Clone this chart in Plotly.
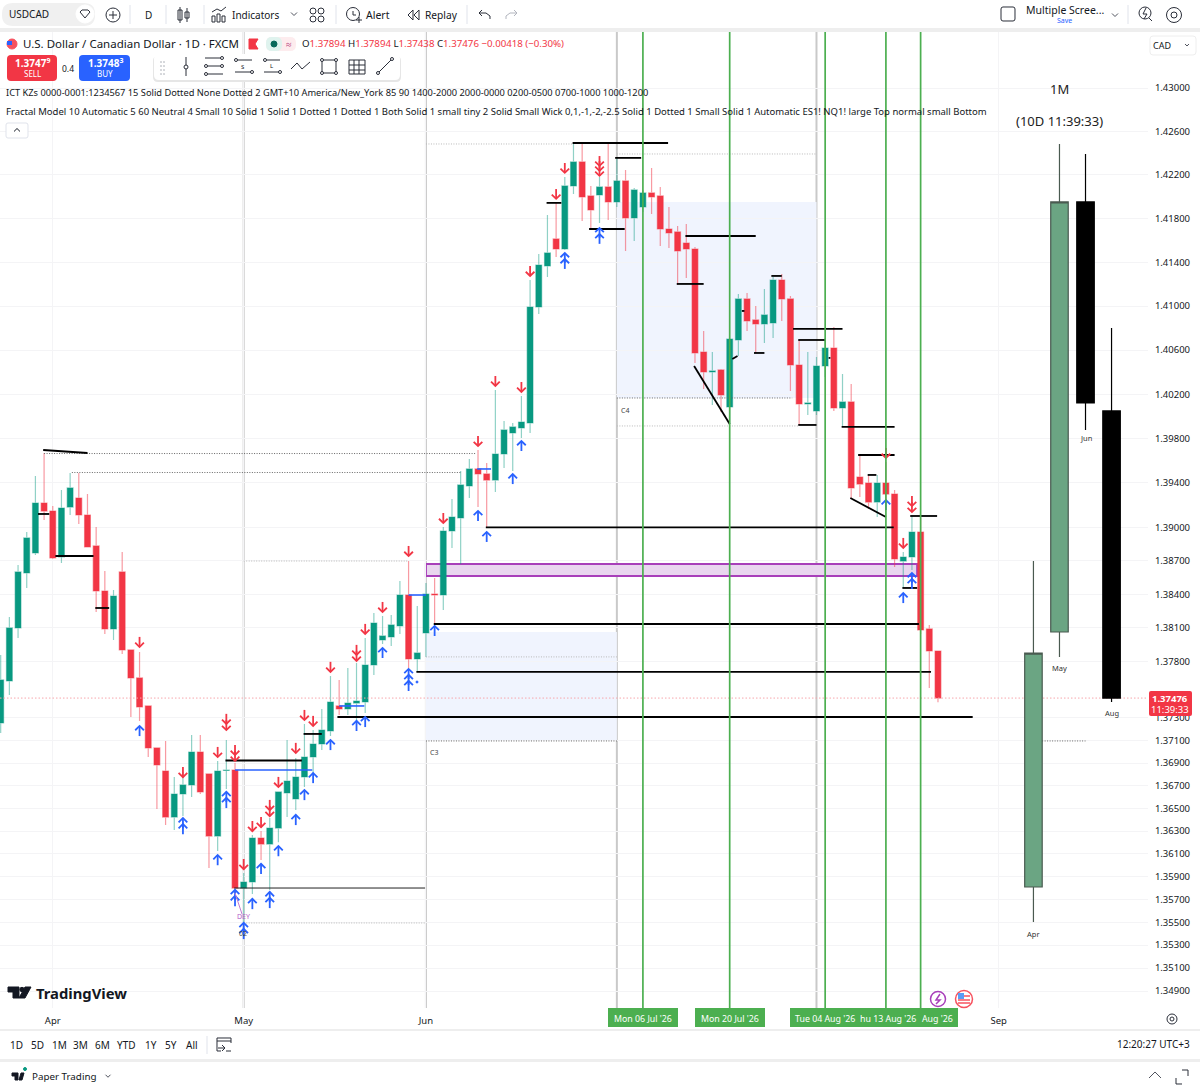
import plotly.graph_objects as go
import numpy as np

W, H = 1200, 1088
FONT = "Noto Sans"
TEXT = "#131722"
RED = "#F23645"
GREEN = "#089981"
BLUE = "#2962FF"

# daily candles, bar 0 is 24 Mar
o = [1.37255,1.37628,1.38100,1.38591,1.38770,1.39218,1.39146,1.38734,1.39182,1.39263,
     1.39111,1.38833,1.38430,1.38091,1.38600,1.37904,1.37655,1.37406,1.37034,1.36830,
     1.36424,1.36627,1.36707,1.36998,1.36804,1.36256,1.36835,1.36839,1.35800,1.35853,
     1.36239,1.36186,1.36327,1.36636,1.36583,1.36777,1.36954,1.37069,1.37184,1.37406,
     1.37379,1.37432,1.37441,1.37770,1.37993,1.38020,1.38118,1.38394,1.37824,1.38055,
     1.38403,1.38394,1.38967,1.39084,1.39372,1.39525,1.39480,1.39425,1.39660,1.39850,
     1.39895,1.39940,1.40992,1.41366,1.41613,1.41521,1.42099,1.42319,1.42007,1.42016,
     1.42089,1.41952,1.42144,1.41805,1.41906,1.42034,1.42007,1.41704,1.41677,1.41576,
     1.41521,1.40583,1.40402,1.40420,1.40085,1.40692,1.41065,1.40874,1.40838,1.40847,
     1.41238,1.41065,1.40465,1.40112,1.40049,1.40456,1.40619,1.40076,1.40130,1.39452,
     1.39398,1.39227,1.39398,1.39299,1.38698,1.38734,1.38958,1.38091,1.37894]
h = [1.37860,1.38198,1.38663,1.38958,1.39461,1.39669,1.39191,1.39336,1.39489,1.39489,
     1.39299,1.39003,1.38609,1.38439,1.38779,1.37904,1.37886,1.37406,1.37034,1.37096,
     1.36777,1.36821,1.37149,1.37149,1.36804,1.36919,1.37105,1.36901,1.35932,1.36265,
     1.36300,1.36415,1.36645,1.37105,1.36945,1.37246,1.37193,1.37379,1.37673,1.37637,
     1.37744,1.37788,1.38011,1.38233,1.38207,1.38215,1.38519,1.38698,1.38296,1.38501,
     1.38546,1.39003,1.39254,1.39507,1.39615,1.39696,1.39579,1.40239,1.39958,1.39940,
     1.40184,1.41238,1.41476,1.41833,1.41943,1.42181,1.42493,1.42493,1.42099,1.42181,
     1.42493,1.42356,1.42245,1.42080,1.42062,1.42264,1.42089,1.41906,1.41732,1.41750,
     1.41539,1.40774,1.40583,1.40429,1.40701,1.41111,1.41120,1.41001,1.41156,1.41266,
     1.41293,1.41092,1.40692,1.40583,1.40538,1.40710,1.40810,1.40384,1.40293,1.39651,
     1.39471,1.39471,1.39588,1.39336,1.38779,1.39102,1.39084,1.38127,1.37894]
l = [1.37167,1.37504,1.38011,1.38457,1.38752,1.39066,1.38716,1.38681,1.39111,1.39030,
     1.38824,1.38242,1.38046,1.37993,1.37868,1.37308,1.37273,1.36954,1.36495,1.36353,
     1.36309,1.36433,1.36601,1.36627,1.35975,1.36124,1.36671,1.35756,1.35494,1.35748,
     1.36045,1.35783,1.36203,1.36424,1.36486,1.36689,1.36804,1.37016,1.37140,1.37326,
     1.37326,1.37237,1.37344,1.37682,1.37957,1.37940,1.38046,1.37744,1.37708,1.37842,
     1.38144,1.38260,1.38815,1.38672,1.39263,1.39182,1.38994,1.39317,1.39534,1.39507,
     1.39804,1.39850,1.40929,1.41266,1.41448,1.41512,1.42025,1.41778,1.41704,1.41759,
     1.41787,1.41906,1.41503,1.41594,1.41860,1.41842,1.41549,1.41530,1.41193,1.41257,
     1.40483,1.40248,1.40103,1.40040,1.39931,1.40547,1.40774,1.40574,1.40665,1.40710,
     1.40865,1.40230,1.39922,1.40012,1.40012,1.40356,1.40049,1.39904,1.39254,1.39272,
     1.39164,1.39093,1.39245,1.38645,1.38457,1.38618,1.38046,1.37566,1.37438]
c = [1.37637,1.38100,1.38600,1.38905,1.39218,1.39146,1.38725,1.39173,1.39354,1.39111,
     1.38824,1.38430,1.38091,1.38385,1.37904,1.37655,1.37397,1.37034,1.36883,1.36424,
     1.36627,1.36707,1.36998,1.36645,1.36256,1.36830,1.36839,1.35800,1.35853,1.36239,
     1.36186,1.36327,1.36645,1.36742,1.36777,1.36954,1.37069,1.37193,1.37441,1.37379,
     1.37432,1.37450,1.37770,1.38144,1.38029,1.38127,1.38394,1.37824,1.37877,1.38403,
     1.38394,1.38967,1.39093,1.39381,1.39525,1.39480,1.39425,1.39660,1.39877,1.39904,
     1.39949,1.40992,1.41375,1.41485,1.41521,1.42099,1.42319,1.41998,1.41878,1.42089,
     1.41952,1.42144,1.41805,1.42062,1.42034,1.41998,1.41704,1.41668,1.41503,1.41521,
     1.40574,1.40402,1.40411,1.40193,1.40701,1.41065,1.40865,1.40838,1.40920,1.41238,
     1.41065,1.40465,1.40112,1.40121,1.40456,1.40619,1.40076,1.40130,1.39354,1.39389,
     1.39227,1.39398,1.39299,1.38716,1.38734,1.38958,1.38082,1.37895,1.37476]
bars = list(range(len(o)))

# monthly candles on the right
month_bar = [119, 122, 125, 128]
month_o = [1.35809, 1.38064, 1.41952, 1.40049]
month_h = [1.38698, 1.42484, 1.42392, 1.40801]
month_l = [1.35503, 1.37842, 1.39877, 1.37441]
month_c = [1.37876, 1.41952, 1.40121, 1.37476]

# axis ticks
price_ticks = [1.43, 1.426, 1.422, 1.418, 1.414, 1.41, 1.406, 1.402, 1.398, 1.394, 1.39, 1.387,
               1.384, 1.381, 1.378, 1.373, 1.371, 1.369, 1.367, 1.365, 1.363, 1.361, 1.359,
               1.357, 1.355, 1.353, 1.351, 1.349]
month_ticks = [6, 28, 49, 115]
month_labels = ["Apr", "May", "Jun", "Sep"]

# vertical markers
grey_bars = [28, 49, 71, 94]
green_bars = [74, 84, 95, 102, 106]

# black level lines
lvl_start = [4.3, 6.3, 10.9, 25.9, 38.8, 47.9, 49.9, 55.9, 34.9, 65.9, 70.8, 62.9, 67.8, 77.9,
             78.9, 85.4, 86.8, 88.8, 91.3, 91.9, 91.9, 95.4, 96.9, 98.8, 99.9, 103.9, 104.8]
lvl_end = [5.6, 10.7, 12.5, 34.7, 112, 107.2, 105.8, 102.9, 37, 76.9, 73.8, 64.6, 71.9, 81,
           87, 85.7, 88, 90, 97, 95, 94, 95.6, 103, 103, 100.9, 105.6, 107.9]
lvl_price = [1.39120, 1.38743, 1.38278, 1.36923, 1.37308, 1.37708, 1.38135, 1.38999, 1.37158,
             1.42493, 1.42356, 1.41943, 1.41704, 1.41202, 1.41640, 1.40956, 1.40574, 1.41275,
             1.40792, 1.40692, 1.39922, 1.40529, 1.39904, 1.39651, 1.39471, 1.38457, 1.39102]
# sloped ones
slope_start = [4.9, 79.9, 84.3, 97.9]
slope_end = [10, 84, 84.9, 102]
slope_from = [1.39696, 1.40456, 1.40520, 1.39263]
slope_to = [1.39669, 1.39931, 1.40547, 1.39093]
# blue ones
blue_start = [27, 39, 47, 54.9]
blue_end = [35.9, 41.9, 49, 56.5]
blue_price = [1.36839, 1.37406, 1.38394, 1.39525]
# the long thin one under the May low
thin_start = [26.9]
thin_end = [48.9]
thin_price = [1.35800]

# dotted levels
dark_start = [5, 8.2, 71, 49, 120]
dark_end = [54.8, 53, 91.2, 71, 125]
dark_price = [1.39664, 1.39493, 1.40166, 1.37096, 1.37096]
pale_start = [28, 49, 71, 71, 49, 28]
pale_end = [47, 66, 94, 92, 71, 49]
pale_price = [1.38698, 1.42484, 1.42392, 1.39913, 1.37842, 1.35494]

# boxes
box_start = [49, 71]
box_end = [71, 94]
box_low = [1.37096, 1.40166]
box_high = [1.38064, 1.41952]
purple_start, purple_end, purple_low, purple_high = 49, 105.6, 1.38564, 1.38672

last_price = 1.37476

# signal arrows
red_bar = [16, 21, 25, 26, 26, 27, 27, 28, 29, 30, 31, 31, 32, 34, 35, 36, 38, 41, 41, 42, 44,
           47, 51, 55, 57, 60, 61, 64, 65, 69, 69, 69, 102, 104, 105, 105]
red_price = [1.37975, 1.36821, 1.36998, 1.37291, 1.37237, 1.37016, 1.36963, 1.36010, 1.36344,
             1.36380, 1.36530, 1.36477, 1.36733, 1.37034, 1.37326, 1.37273, 1.37753, 1.37904,
             1.37851, 1.38091, 1.38287, 1.38788, 1.39084, 1.39777, 1.40320, 1.40266, 1.41320,
             1.42025, 1.42264, 1.42328, 1.42282, 1.42236, 1.39669, 1.38860, 1.39236, 1.39182]
blue_bar = [16, 21, 21, 25, 26, 26, 27, 27, 28, 28, 29, 30, 31, 31, 32, 34, 35, 36, 38, 41, 42,
            44, 47, 47, 47, 50, 55, 56, 59, 60, 65, 65, 69, 69, 102, 104, 105, 105]
blue_arrow_price = [1.37184, 1.36371, 1.36318, 1.36045, 1.36601, 1.36548, 1.35739, 1.35686,
                    1.35450, 1.35398, 1.35660, 1.35967, 1.35721, 1.35669, 1.36124, 1.36398,
                    1.36618, 1.36768, 1.37060, 1.37229, 1.37264, 1.37877, 1.37690, 1.37637,
                    1.37584, 1.38073, 1.39102, 1.38914, 1.39434, 1.39732, 1.41439, 1.41384,
                    1.41668, 1.41613, 1.39200, 1.38367, 1.38546, 1.38493]

# 1 bar = 8.68px, so the x range covers the full chart pane
x_range = [-0.08, 132.2]
y_range = [np.log10(1.34752), np.log10(1.43518)]
pane_top, pane_bottom, pane_right = 32, 1008, 1148


def px(x):
    return x / W


def py(y):
    return 1 - y / H


def segments(start, end, first, second):
    xs, ys = [], []
    for a, b, p, q in zip(start, end, first, second):
        xs += [a, b, None]
        ys += [p, q, None]
    return xs, ys


def level_trace(start, end, first, second, color, width, dash="solid"):
    xs, ys = segments(start, end, first, second)
    return go.Scatter(x=xs, y=ys, mode="lines", line=dict(color=color, width=width, dash=dash),
                      hoverinfo="skip", showlegend=False)


def arrow_trace(arrow_bars, arrow_prices, color, up):
    # stem and two barbs around each signal, about 10px tall and 9px wide
    d = 0.00045 if up else -0.00045
    xs, ys = [], []
    for b, p in zip(arrow_bars, arrow_prices):
        xs += [b, b, None, b - 0.5, b, b + 0.5, None]
        ys += [p - d, p + d, None, p + d * 0.15, p + d, p + d * 0.15, None]
    return go.Scatter(x=xs, y=ys, mode="lines", line=dict(color=color, width=1.8),
                      hoverinfo="skip", showlegend=False)


fig = go.Figure()
fig.add_trace(go.Candlestick(x=bars, open=o, high=h, low=l, close=c, whiskerwidth=0,
                             increasing=dict(fillcolor=GREEN, line=dict(color="rgba(8,153,129,0.45)", width=1.2)),
                             decreasing=dict(fillcolor=RED, line=dict(color="rgba(242,54,69,0.5)", width=1.2)),
                             showlegend=False))
fig.add_trace(go.Candlestick(x=month_bar, open=month_o, high=month_h, low=month_l, close=month_c,
                             whiskerwidth=0, xaxis="x2",
                             increasing=dict(fillcolor="#6BA583", line=dict(color="#4a5a50", width=1.2)),
                             decreasing=dict(fillcolor="#000000", line=dict(color="#000000", width=1.2)),
                             showlegend=False))

fig.add_trace(level_trace(dark_start, dark_end, dark_price, dark_price, "#666666", 1, "1px,1.5px"))
fig.add_trace(level_trace(pale_start, pale_end, pale_price, pale_price, "#b8b8b8", 1, "1px,1.5px"))
fig.add_trace(level_trace(lvl_start, lvl_end, lvl_price, lvl_price, "#000000", 1.8))
fig.add_trace(level_trace(slope_start, slope_end, slope_from, slope_to, "#000000", 1.8))
fig.add_trace(level_trace(thin_start, thin_end, thin_price, thin_price, "#222222", 1))
fig.add_trace(level_trace(blue_start, blue_end, blue_price, blue_price, BLUE, 1.6))
fig.add_trace(level_trace([x_range[0]], [x_range[1]], [last_price], [last_price], "#F7A6AD", 1, "1.5px,2px"))

fig.add_trace(arrow_trace(red_bar, red_price, RED, False))
fig.add_trace(arrow_trace(blue_bar, blue_arrow_price, BLUE, True))

shapes = []
annots = []

# things tied to the chart's axes
for a, b, lo, hi in zip(box_start, box_end, box_low, box_high):
    shapes.append(dict(type="rect", xref="x", yref="y", x0=a, x1=b, y0=lo, y1=hi, layer="below",
                       fillcolor="#F0F4FE", line=dict(width=0)))
shapes.append(dict(type="rect", xref="x", yref="y", x0=purple_start, x1=purple_end, y0=purple_low,
                   y1=purple_high, layer="below", fillcolor="#E9D6EF", line=dict(color="#A83FBA", width=2)))
for b in grey_bars:
    shapes.append(dict(type="line", xref="x", yref="paper", x0=b, x1=b, y0=py(pane_bottom), y1=py(pane_top),
                       layer="below", line=dict(color="#c9c9c9", width=2)))
for b in green_bars:
    shapes.append(dict(type="line", xref="x", yref="paper", x0=b, x1=b, y0=py(pane_bottom), y1=py(pane_top),
                       line=dict(color="#4CAF50", width=1.7)))


def label(x, y, text, size=11, color=TEXT, anchor="left", family=FONT):
    annots.append(dict(xref="paper", yref="paper", x=px(x), y=py(y), text=text, showarrow=False,
                       xanchor=anchor, yanchor="middle", borderpad=0, borderwidth=0,
                       font=dict(family=family, size=size, color=color)))


def ui_line(x0, y0, x1, y1, color="#2a2e39", width=1):
    shapes.append(dict(type="line", xref="paper", yref="paper", x0=px(x0), x1=px(x1), y0=py(y0), y1=py(y1),
                       line=dict(color=color, width=width)))


def ui_rect(x0, y0, x1, y1, fill, color=None, width=0):
    shapes.append(dict(type="rect", xref="paper", yref="paper", x0=px(x0), x1=px(x1), y0=py(y0), y1=py(y1),
                       fillcolor=fill, line=dict(color=color, width=width)))


def ui_circle(cx, cy, r, fill="rgba(0,0,0,0)", color="#2a2e39", width=1):
    shapes.append(dict(type="circle", xref="paper", yref="paper", x0=px(cx - r), x1=px(cx + r),
                       y0=py(cy + r), y1=py(cy - r), fillcolor=fill, line=dict(color=color, width=width)))


def ui_poly(points, fill="rgba(0,0,0,0)", color="#2a2e39", width=1, close=False):
    d = "M " + " L ".join(f"{px(a):.5f} {py(b):.5f}" for a, b in points)
    if close:
        d += " Z"
    shapes.append(dict(type="path", xref="paper", yref="paper", path=d, fillcolor=fill,
                       line=dict(color=color, width=width)))


def ui_round(x0, y0, x1, y1, r, fill, color="rgba(0,0,0,0)", width=0):
    X0, X1, Y0, Y1 = px(x0), px(x1), py(y0), py(y1)
    rx, ry = r / W, r / H
    d = (f"M {X0+rx:.5f} {Y0:.5f} L {X1-rx:.5f} {Y0:.5f} Q {X1:.5f} {Y0:.5f} {X1:.5f} {Y0-ry:.5f} "
         f"L {X1:.5f} {Y1+ry:.5f} Q {X1:.5f} {Y1:.5f} {X1-rx:.5f} {Y1:.5f} "
         f"L {X0+rx:.5f} {Y1:.5f} Q {X0:.5f} {Y1:.5f} {X0:.5f} {Y1+ry:.5f} "
         f"L {X0:.5f} {Y0-ry:.5f} Q {X0:.5f} {Y0:.5f} {X0+rx:.5f} {Y0:.5f} Z")
    shapes.append(dict(type="path", xref="paper", yref="paper", path=d, fillcolor=fill,
                       line=dict(color=color, width=width)))


def chevron(x, y, size=3, color="#50535e", up=False):
    s = -size if up else size
    ui_poly([(x - size, y - s / 2), (x, y + s / 2), (x + size, y - s / 2)], color=color)


# window bands
ui_rect(0, 28, W, 32, "#eeeeee")
ui_rect(0, 1029, W, 1031, "#eeeeee")
ui_rect(0, 1059, W, 1062, "#eeeeee")

# top bar
ui_round(2, 3, 95, 26, 11, "#f0f0f0")
label(9, 14, "USDCAD", 10)
ui_circle(85, 14, 9, fill="#ffffff", color="#ffffff")
ui_poly([(80, 12), (82, 10), (88, 10), (90, 12), (85, 18)], close=True)
ui_circle(113, 15, 7)
ui_line(113, 11, 113, 19)
ui_line(109, 15, 117, 15)
for x in [130, 166, 204, 336, 467, 1128]:
    ui_line(x, 5, x, 24, "#e0e3eb")
label(148, 15, "D", 10, anchor="center")
ui_rect(178, 10, 182, 20, "#ffffff", "#2a2e39", 1)
ui_rect(185, 12, 189, 18, "#ffffff", "#2a2e39", 1)
ui_line(180, 7, 180, 23)
ui_line(187, 8, 187, 22)
ui_rect(212, 16, 215, 22, "#ffffff", "#2a2e39", 1)
ui_rect(217, 14, 220, 22, "#ffffff", "#2a2e39", 1)
ui_rect(222, 16, 225, 22, "#ffffff", "#2a2e39", 1)
ui_poly([(212, 12), (217, 9), (221, 11), (226, 7)])
label(232, 15, "Indicators", 10)
chevron(294, 14)
for cx, cy in [(313, 11), (321, 11), (313, 19), (321, 19)]:
    ui_circle(cx, cy, 3)
ui_circle(353, 14, 6.5)
ui_line(353, 11, 353, 15)
ui_line(353, 15, 356, 15)
ui_line(356, 20, 362, 20)
ui_line(359, 17, 359, 23)
label(366, 15, "Alert", 10.5)
ui_poly([(413, 10), (408, 15), (413, 20), (413, 10)])
ui_poly([(419, 10), (414, 15), (419, 20), (419, 10)])
label(425, 15, "Replay", 10.2)
ui_poly([(482, 10), (479, 13), (482, 16)])
ui_poly([(479, 13), (486, 13), (490, 16), (490, 19)])
ui_poly([(514, 10), (517, 13), (514, 16)], color="#b2b5be")
ui_poly([(517, 13), (510, 13), (506, 16), (506, 19)], color="#b2b5be")
ui_round(1001, 7, 1015, 21, 2, "#ffffff", "#2a2e39", 1)
label(1026, 10, "Multiple Scree...", 10.5)
label(1064, 20, "Save", 7, BLUE, anchor="center")
chevron(1115, 15)
ui_circle(1145, 13, 6)
ui_line(1149, 18, 1152, 21)
ui_poly([(1146, 8), (1143, 14), (1147, 14), (1144, 19)])
ui_circle(1174, 15, 7.5)
ui_circle(1174, 15, 3)

# symbol line
ui_circle(12, 44, 5, fill="#F7525F", color="#F7525F")
ui_rect(7, 41, 12, 45, "#2962FF")
label(23, 44, "U.S. Dollar / Canadian Dollar · 1D · FXCM", 11.5)
ui_poly([(249, 39), (258, 39), (255, 44), (258, 49), (249, 49)], fill=RED, color=RED, close=True)
ui_round(266, 37, 296, 51, 6, "#fdecee")
ui_round(266, 37, 282, 51, 6, "#dff3ee")
ui_circle(274, 44, 3, fill="#08695a", color="#08695a")
label(289, 44, "≈", 10, "#b0286f", anchor="center")
red_span = '<span style="color:#F23645">'
label(302, 44, f"O{red_span}1.37894</span> H{red_span}1.37894</span> L{red_span}1.37438</span> "
               f"C{red_span}1.37476</span> {red_span}−0.00418 (−0.30%)</span>", 9.7)

# buy and sell
ui_round(7, 55, 57, 81, 4, RED)
label(32, 63, "<b>1.3747<sup>9</sup></b>", 10, "#ffffff", anchor="center")
label(32, 73, "SELL", 8, "#ffffff", anchor="center")
label(68, 68, "0.4", 8.5, anchor="center")
ui_round(79, 55, 130, 81, 4, BLUE)
label(105, 63, "<b>1.3748<sup>3</sup></b>", 10, "#ffffff", anchor="center")
label(105, 73, "BUY", 8, "#ffffff", anchor="center")

# drawing toolbar
ui_round(153, 56, 401, 82, 5, "#e6e6e6")
ui_round(154, 54, 400, 80, 5, "#ffffff")
for yy in [62, 66, 70, 74]:
    for xx in [161, 164]:
        ui_circle(xx, yy, 0.5, fill="#c4c6cc", color="#c4c6cc")
ui_line(186, 57, 186, 76)
ui_circle(186, 67, 2, fill="#ffffff")
for yy in [58, 66, 74]:
    ui_line(205, yy, 223, yy)
for cx, cy in [(222, 58), (206, 66), (222, 66), (206, 74)]:
    ui_circle(cx, cy, 1.5, fill="#ffffff")
ui_line(236, 60, 252, 60)
ui_line(235, 72, 252, 72)
ui_circle(236, 60, 1.5, fill="#ffffff")
ui_circle(252, 72, 1.5, fill="#ffffff")
label(243, 67, "S", 6, anchor="center")
ui_line(265, 60, 280, 60)
ui_line(264, 72, 280, 72)
ui_circle(265, 60, 1.5, fill="#ffffff")
ui_circle(280, 72, 1.5, fill="#ffffff")
label(271, 66, "L", 6, anchor="center")
ui_poly([(291, 69), (297, 63), (302, 69), (310, 62)])
ui_rect(322, 60, 336, 73, "#ffffff", "#2a2e39", 1)
for cx, cy in [(322, 60), (336, 60), (322, 73), (336, 73)]:
    ui_circle(cx, cy, 1.5, fill="#ffffff")
ui_rect(349, 60, 365, 74, "#ffffff", "#2a2e39", 1)
for xx in [354, 359]:
    ui_line(xx, 60, xx, 74)
for yy in [65, 70]:
    ui_line(349, yy, 365, yy)
ui_line(378, 73, 392, 59)
ui_circle(378, 73, 1.5, fill="#ffffff")
ui_circle(392, 59, 1.5, fill="#ffffff")

# indicator rows
label(6, 93, "ICT KZs 0000-0001:1234567 15 Solid Dotted None Dotted 2 GMT+10 America/New_York 85 90 "
             "1400-2000 2000-0000 0200-0500 0700-1000 1000-1200", 9.28)
label(6, 112, "Fractal Model 10 Automatic 5 60 Neutral 4 Small 10 Solid 1 Solid 1 Dotted 1 Dotted 1 Both "
              "Solid 1 small tiny 2 Solid Small Wick 0,1,-1,-2,-2.5 Solid 1 Dotted 1 Small Solid 1 Automatic "
              "ES1! NQ1! large Top normal small Bottom", 9.5)
ui_round(6, 123, 28, 138, 2, "#ffffff", "#e0e3eb", 1)
chevron(17, 130, up=True, color=TEXT)

# right column
ui_round(1150, 36, 1196, 55, 3, "#ffffff", "#eeeeee", 1)
label(1153, 45, "CAD", 9)
chevron(1187, 45, 2)
label(1059, 89, "1M", 13, "#222222", anchor="center")
label(1059, 121, "(10D 11:39:33)", 13, "#222222", anchor="center")
ui_round(1149, 691, 1192, 716, 2, RED)
label(1170, 698, "<b>1.37476</b>", 9.5, "#ffffff", anchor="center")
label(1170, 709, "11:39:33", 9.5, "#ffffff", anchor="center")

# small tags on the chart
label(625, 410, "C4", 7, "#444444", anchor="center")
label(434, 752, "C3", 7, "#444444", anchor="center")
label(243, 916, "DEY", 7, "#B45CC8", anchor="center")
label(243, 933, "02", 7, "#444444", anchor="center")
ui_line(235, 893, 242, 914, "#C07AD2", 1)
ui_circle(417, 682, 1, fill=BLUE, color=BLUE)
label(1033, 934, "Apr", 7.5, "#333333", anchor="center")
label(1059, 668, "May", 7.5, "#333333", anchor="center")
label(1086, 438, "Jun", 7.5, "#333333", anchor="center")
label(1112, 713, "Aug", 7.5, "#333333", anchor="center")

# green date tags
for x0, x1 in [(608, 678), (695, 765), (790, 958)]:
    ui_rect(x0, 1008, x1, 1027, "#4CAF50")
label(643, 1019, "Mon 06 Jul '26", 8.8, "#ffffff", anchor="center")
label(730, 1019, "Mon 20 Jul '26", 8.8, "#ffffff", anchor="center")
label(825, 1019, "Tue 04 Aug '26", 8.8, "#ffffff", anchor="center")
label(888, 1019, "hu 13 Aug '26", 8.8, "#ffffff", anchor="center")
label(937, 1019, "Aug '26", 8.8, "#ffffff", anchor="center")

# event badges
ui_circle(938, 999, 7.5, fill="#ffffff", color="#A83FBA", width=1.5)
ui_poly([(940, 994), (936, 1000), (940, 1000), (936, 1004)], color="#A83FBA", width=1.5)
ui_circle(964, 999, 8.5, fill="#ffffff", color="#F7525F", width=1.5)
for yy in [996, 1000, 1003]:
    ui_line(958, yy, 970, yy, "#F7525F", 1.5)
ui_rect(958, 993, 964, 999, "#5B9CF6")

# logo
ui_poly([(8, 987), (19, 987), (19, 998), (13, 998), (13, 992), (8, 992)], fill="#131722", color="#131722", close=True)
ui_circle(22, 989.5, 2.2, fill="#131722", color="#131722")
ui_poly([(19, 998), (25, 987), (31, 987), (25, 998)], fill="#131722", color="#131722", close=True)
label(36, 993, "<b>TradingView</b>", 14.8)

# gear
ui_circle(1172, 1019, 5)
ui_circle(1172, 1019, 2)

# range bar
for x, t in zip([16, 37, 59, 80, 102, 126, 151, 171, 192],
                ["1D", "5D", "1M", "3M", "6M", "YTD", "1Y", "5Y", "All"]):
    label(x, 1045, t, 10, anchor="center")
ui_line(207, 1036, 207, 1054, "#e0e3eb")
ui_poly([(231, 1043), (231, 1038), (217, 1038), (217, 1051), (221, 1051)])
ui_line(217, 1041, 231, 1041)
ui_line(218, 1048, 224, 1048)
ui_poly([(222, 1045), (225, 1048), (222, 1051)])
ui_line(226, 1051, 231, 1051)
label(1190, 1044, "12:20:27 UTC+3", 10, anchor="right")

# bottom bar
ui_poly([(12, 1073), (18, 1073), (18, 1080), (15, 1080), (15, 1076), (12, 1076)], fill=TEXT, color=TEXT, close=True)
ui_poly([(19, 1080), (21, 1073), (24, 1073), (22, 1080)], fill=TEXT, color=TEXT, close=True)
ui_circle(25, 1069, 1.5, fill=GREEN, color=GREEN)
label(32, 1076, "Paper Trading", 9.8)
chevron(108, 1076, 2.5)
chevron(1155, 1075, 6, up=True)
ui_poly([(1176, 1078), (1176, 1084), (1182, 1084)])
ui_poly([(1182, 1070), (1188, 1070), (1188, 1076)])

fig.update_layout(
    width=W, height=H, margin=dict(l=0, r=0, t=0, b=0), autosize=False,
    paper_bgcolor="#ffffff", plot_bgcolor="#ffffff", showlegend=False,
    boxgap=0.18, boxgroupgap=0.18,
    shapes=shapes, annotations=annots,
    xaxis=dict(domain=[0, pane_right / W], range=x_range, tickmode="array", tickvals=month_ticks,
               ticktext=month_labels, tickfont=dict(family=FONT, size=9.5, color=TEXT),
               showgrid=True, gridcolor="#f4f4f6", zeroline=False, showline=False, ticks="outside",
               ticklen=4, tickcolor="#ffffff", rangeslider=dict(visible=False), fixedrange=True),
    xaxis2=dict(domain=[0, pane_right / W], range=x_range, overlaying="x", anchor="y", visible=False,
                rangeslider=dict(visible=False), fixedrange=True),
    yaxis=dict(domain=[py(pane_bottom), py(pane_top)], type="log", range=y_range, side="right",
               tickmode="array", tickvals=price_ticks, ticktext=[f"{p:.5f}" for p in price_ticks],
               tickfont=dict(family=FONT, size=9.5, color=TEXT), showgrid=True, gridcolor="#f4f4f6",
               zeroline=False, showline=False, ticks="outside", ticklen=4, tickcolor="#ffffff",
               fixedrange=True),
)

fig.write_html("out.html", config={"displayModeBar": False}, post_script="document.body.style.margin='0';")
